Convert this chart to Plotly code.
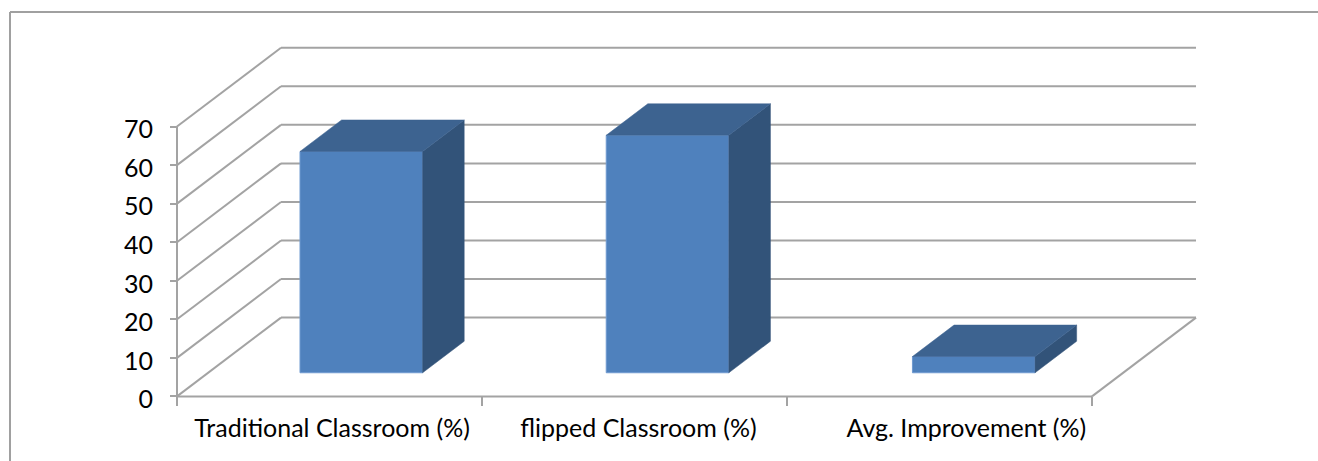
import plotly.graph_objects as go

categories = ["Traditional Classroom (%)", "flipped Classroom (%)", "Avg. Improvement (%)"]
values = [57.4, 61.6, 4.2]
y_ticks = [0, 10, 20, 30, 40, 50, 60, 70]
label_positions = [0.5085, 1.513, 2.588]
bar_slots = [0.502, 1.506, 2.51]

W, H = 1318, 461
X0_PX, UNIT_X = 177, 305.0
Y0_PX, UNIT_Y = 396.4, 3.855
DEPTH_X = 104 / UNIT_X          # x shift for full floor depth
DEPTH_Y = 78.8 / UNIT_Y         # y shift for full floor depth
BAR_WIDTH = 0.402
BAR_NEAR, BAR_DEPTH = 0.30, 0.40

FRONT, SIDE, TOP = "#4F81BD", "#325379", "#3D6390"
GRID = "#A3A3A3"
TEXT = "#000000"


def depth(x, y, d):
    return x + d * DEPTH_X, y + d * DEPTH_Y


fig = go.Figure()

# front faces: real bars, moved into the floor by the near depth
near_x, near_y = depth(0, 0, BAR_NEAR)
x_front = [s + near_x for s in bar_slots]
fig.add_bar(
    x=x_front, y=values, base=[near_y] * len(values), width=BAR_WIDTH,
    marker=dict(color=FRONT, line=dict(color="#6F9AD0", width=1)),
    showlegend=False, hoverinfo="skip",
)

# side and top faces
for xc, v in zip(x_front, values):
    xl, xr = xc - BAR_WIDTH / 2, xc + BAR_WIDTH / 2
    yb, yt = near_y, near_y + v
    bx, by = depth(xr, yb, BAR_DEPTH)
    tx, ty = depth(xr, yt, BAR_DEPTH)
    lx, ly = depth(xl, yt, BAR_DEPTH)
    fig.add_scatter(x=[xr, bx, tx, xr, xr], y=[yb, by, ty, yt, yb], mode="lines",
                    fill="toself", fillcolor=SIDE, line=dict(color=SIDE, width=0.5),
                    showlegend=False, hoverinfo="skip")
    fig.add_scatter(x=[xl, lx, tx, xr, xl], y=[yt, ly, ty, yt, yt], mode="lines",
                    fill="toself", fillcolor=TOP, line=dict(color=TOP, width=0.5),
                    showlegend=False, hoverinfo="skip")

# wall grid and floor, beneath the bars
n = len(categories)
shapes = []


def seg(x0, y0, x1, y1):
    shapes.append(dict(type="line", x0=x0, y0=y0, x1=x1, y1=y1, xref="x", yref="y",
                       layer="below", line=dict(color=GRID, width=2)))


for t in y_ticks:
    bx, by = depth(0, t, 1)
    seg(0, t, bx, by)
    seg(bx, by, depth(n, t, 1)[0], by)
seg(0, 0, 0, y_ticks[-1])
seg(0, 0, n, 0)
seg(n, 0, *depth(n, 0, 1))

# frame of the pasted picture
for x0, y0, x1, y1 in [(10 / W, 1 - 12 / H, 1, 1 - 12 / H), (10 / W, 1 - 12 / H, 10 / W, 0)]:
    shapes.append(dict(type="line", x0=x0, y0=y0, x1=x1, y1=y1, xref="paper", yref="paper",
                       layer="below", line=dict(color="#A0A0A0", width=2)))

fig.update_layout(
    width=W, height=H, margin=dict(l=0, r=0, t=0, b=0),
    paper_bgcolor="white", plot_bgcolor="white", showlegend=False,
    font=dict(family="Lato", size=25, color=TEXT),
    shapes=shapes,
    xaxis=dict(
        range=[-X0_PX / UNIT_X, (W - X0_PX) / UNIT_X], domain=[0, 1],
        anchor="free", position=(H - Y0_PX) / H,
        tickmode="array", tickvals=label_positions, ticktext=categories,
        ticks="outside", ticklen=10, tickcolor="rgba(0,0,0,0)", ticklabelstandoff=0,
        minor=dict(tickmode="array", tickvals=list(range(n + 1)), ticks="outside",
                   ticklen=9, tickwidth=2, tickcolor=GRID),
        showgrid=False, showline=False, zeroline=False,
        tickfont=dict(size=25, color=TEXT), tickangle=0, fixedrange=True,
    ),
    yaxis=dict(
        range=[(Y0_PX - H) / UNIT_Y, Y0_PX / UNIT_Y], domain=[0, 1],
        anchor="free", position=X0_PX / W,
        tickmode="array", tickvals=y_ticks, ticktext=[str(t) for t in y_ticks],
        ticks="outside", ticklen=7, tickwidth=2, tickcolor=GRID, ticklabelstandoff=12,
        ticklabelshift=3,
        showgrid=False, showline=False, zeroline=False,
        tickfont=dict(size=25, color=TEXT), fixedrange=True,
    ),
)

fig.write_html("out.html", config=dict(displayModeBar=False),
               post_script="document.body.style.margin='0';document.body.style.overflow='hidden';")
